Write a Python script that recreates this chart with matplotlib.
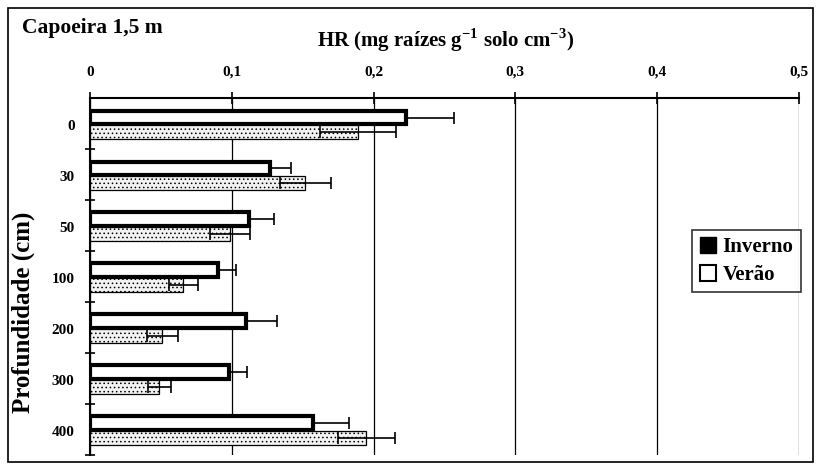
import matplotlib
matplotlib.use("Agg")
import matplotlib.pyplot as plt
import numpy as np
from matplotlib.patches import Rectangle

# Depth classes (cm) and root density (HR) per season
depths = ['0', '30', '50', '100', '200', '300', '400']
inverno = [0.223, 0.127, 0.112, 0.090, 0.110, 0.098, 0.157]
inverno_err = [0.034, 0.015, 0.018, 0.013, 0.022, 0.013, 0.026]
verao = [0.189, 0.152, 0.099, 0.066, 0.051, 0.049, 0.195]
verao_err = [0.027, 0.018, 0.014, 0.010, 0.011, 0.008, 0.020]
xticks = [0, 0.1, 0.2, 0.3, 0.4, 0.5]
xtick_labels = ['0', '0,1', '0,2', '0,3', '0,4', '0,5']

plt.rcParams['font.family'] = ['Liberation Serif', 'DejaVu Serif']
plt.rcParams['mathtext.fontset'] = 'custom'
plt.rcParams['mathtext.rm'] = 'Liberation Serif:bold'
plt.rcParams['mathtext.bf'] = 'Liberation Serif:bold'
plt.rcParams['hatch.color'] = '#b5b5b5'
plt.rcParams['hatch.linewidth'] = 0.6

fig = plt.figure(figsize=(8.17, 4.70), dpi=100)
ax = fig.add_axes([0.110, 0.032, 0.868, 0.759])

y = np.arange(len(depths))
h = 0.27
# error bars of Inverno sit behind the white bar, so only the outer part shows
ax.errorbar(inverno, y - 0.15, xerr=inverno_err, fmt='none', ecolor='black',
            elinewidth=1.2, capsize=4, capthick=1.2, zorder=2)
ax.barh(y - 0.15, inverno, height=h, color='white', edgecolor='black',
        linewidth=3, zorder=3)
ax.barh(y + 0.14, verao, height=h, color='#f2f2f2', edgecolor='black',
        linewidth=0.9, hatch='....', zorder=3)
ax.errorbar(verao, y + 0.14, xerr=verao_err, fmt='none', ecolor='black',
            elinewidth=1.2, capsize=4, capthick=1.2, zorder=4)

ax.set_xlim(0, 0.5)
ax.set_ylim(6.48, -0.53)
ax.xaxis.tick_top()
ax.set_xticks(xticks)
ax.set_xticklabels(xtick_labels, fontsize=11, fontweight='bold')
ax.tick_params(axis='x', length=8, width=1.2, direction='inout', pad=10)
ax.set_yticks(y)
ax.set_yticklabels(depths, fontsize=11, fontweight='bold')
ax.tick_params(axis='y', length=0, pad=11)
ax.set_yticks(np.append(y[:-1] + 0.47, 6.48), minor=True)
ax.tick_params(axis='y', which='minor', length=7, width=1.2, direction='inout')
ax.grid(axis='x', color='black', linewidth=0.9, zorder=0)

for s in ['right', 'bottom']:
    ax.spines[s].set_visible(False)
ax.spines['top'].set_linewidth(1.5)
ax.spines['left'].set_linewidth(1.5)

ax.set_ylabel('Profundidade (cm)', fontsize=18, fontweight='bold')
ax.yaxis.set_label_coords(-0.078, 0.40)
fig.text(0.545, 0.915, r'HR (mg raízes g$^{-1}$ solo cm$^{-3}$)', fontsize=15,
         fontweight='bold', ha='center', va='center')
fig.text(0.027, 0.94, 'Capoeira 1,5 m', fontsize=15.5, fontweight='bold',
         ha='left', va='center')

handles = [Rectangle((0, 0), 1, 1, facecolor='black', edgecolor='black', linewidth=1),
           Rectangle((0, 0), 1, 1, facecolor='white', edgecolor='black', linewidth=1.5)]
leg = ax.legend(handles, ['Inverno', 'Verão'], loc='upper left',
                bbox_to_anchor=(0.835, 0.66), prop={'weight': 'bold', 'size': 15},
                frameon=True, fancybox=False, edgecolor='black', handlelength=0.8,
                handleheight=0.8, handletextpad=0.3, borderpad=0.35, labelspacing=0.35)
leg.get_frame().set_linewidth(1.2)

# outer frame of the figure
fig.patches.append(Rectangle((0.01, 0.017), 0.985, 0.966, transform=fig.transFigure,
                             fill=False, edgecolor='black', linewidth=1.2))

fig.savefig('out.png', dpi=100, facecolor='white')
